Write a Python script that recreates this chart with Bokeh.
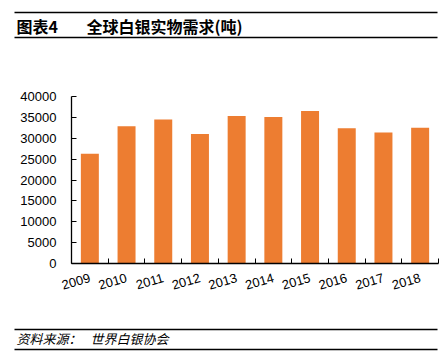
from bokeh.plotting import figure
from bokeh.models import Range1d, FixedTicker, LinearAxis, ColumnDataSource
from bokeh.layouts import column, row
from bokeh.core.properties import value
from bokeh.embed import file_html
from bokeh.resources import INLINE

years = ["2009", "2010", "2011", "2012", "2013", "2014", "2015", "2016", "2017", "2018"]
demand = [26300, 32900, 34500, 31000, 35300, 35100, 36500, 32400, 31400, 32500]
y_ticks = [0, 5000, 10000, 15000, 20000, 25000, 30000, 35000, 40000]

W = 447
HEAD_H, MAIN_H, FOOT_H = 45, 273, 38
font = "Liberation Sans"
cjk = "Noto Sans CJK SC"


def deco_fig(h):
    f = figure(width=W, height=h, output_backend="svg", toolbar_location=None,
               x_range=Range1d(0, W), y_range=Range1d(h, 0),
               min_border=0, min_border_left=0, min_border_right=0,
               min_border_top=0, min_border_bottom=0,
               x_axis_type=None, y_axis_type=None)
    f.outline_line_color = None
    f.grid.visible = False
    return f


def rule(f, y, t=1.5):
    f.segment(x0=[14], y0=[y], x1=[437], y1=[y], line_color="black", line_width=t)


def txt(f, s, x, y, size, style="normal"):
    f.text(x=[x], y=[y], text=[s], text_font=value(cjk), text_font_size=size,
           text_font_style=style, text_color="black", text_baseline="middle", text_align="left")


# header
head = deco_fig(HEAD_H)
rule(head, 12)
rule(head, 37)
txt(head, "图表4", 16, 25, "16px", "bold")
txt(head, "全球白银实物需求(吨)", 86, 25, "16px", "bold")

# main chart
xs = [i + 0.5 for i in range(len(years))]
src = ColumnDataSource(dict(x=xs, top=demand))

p = figure(width=W, height=MAIN_H, output_backend="svg", toolbar_location=None,
           x_range=Range1d(0, len(years)), y_range=Range1d(0, 40000),
           min_border_left=71, min_border_right=9, min_border_top=51, min_border_bottom=55,
           x_axis_type=None, y_axis_type=None)
p.outline_line_color = None
p.grid.visible = False

p.vbar(x="x", top="top", width=0.49, bottom=0, source=src, color="#ED7D31", line_color=None)

yax = LinearAxis(ticker=FixedTicker(ticks=y_ticks))
yax.axis_line_color = "black"
yax.axis_line_width = 1.3
yax.major_tick_in = 5
yax.major_tick_out = 0
yax.minor_tick_line_color = None
yax.major_label_text_font = font
yax.major_label_text_font_size = "13px"
yax.major_label_text_color = "black"
yax.major_label_standoff = 15
p.add_layout(yax, "left")

xax = LinearAxis(ticker=FixedTicker(ticks=list(range(len(years) + 1))))
xax.axis_line_color = "black"
xax.axis_line_width = 1.3
xax.major_tick_in = 5
xax.major_tick_out = 0
xax.minor_tick_line_color = None
xax.major_label_text_font_size = "0px"
xax.major_label_text_color = None
xax.major_label_standoff = 0
p.add_layout(xax, "below")

xlab = LinearAxis(ticker=FixedTicker(ticks=xs),
                  major_label_overrides={x: y for x, y in zip(xs, years)})
xlab.axis_line_color = None
xlab.major_tick_line_color = None
xlab.minor_tick_line_color = None
xlab.major_label_orientation = 0.28
xlab.major_label_text_font = font
xlab.major_label_text_font_size = "13px"
xlab.major_label_text_color = "black"
xlab.major_label_standoff = 8
p.add_layout(xlab, "below")

# footer
foot = deco_fig(FOOT_H)
rule(foot, 11)
rule(foot, 31)
txt(foot, "资料来源：", 16, 20, "13px", "italic")
txt(foot, "世界白银协会", 90, 20, "13px", "italic")

layout = column(row(head), row(p), row(foot), spacing=0)
open("out.html", "w").write(file_html(layout, INLINE))
